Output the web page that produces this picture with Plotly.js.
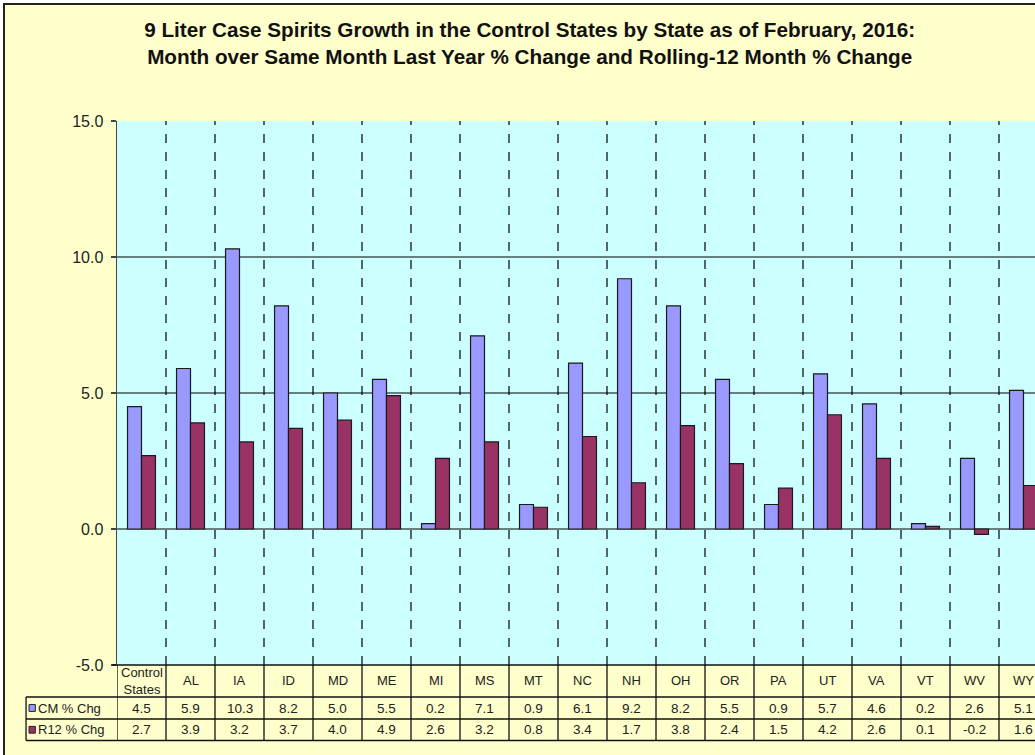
<!DOCTYPE html>
<html>
<head>
<meta charset="utf-8">
<script src="https://cdn.plot.ly/plotly-3.0.1.min.js"></script>
<style>
  html, body { margin:0; padding:0; background:#ffffff; overflow:hidden; width:1035px; height:755px; }
  #chart { position:absolute; left:3px; top:3px; width:1060px; height:752px;
           border-left:2px solid #222; border-top:2px solid #222; }
</style>
</head>
<body>
<div id="chart"></div>
<script>
// ---- data ----
const categories = ["Control States","AL","IA","ID","MD","ME","MI","MS","MT","NC","NH","OH","OR","PA","UT","VA","VT","WV","WY"];
const headerLabels = ["Control<br>States","AL","IA","ID","MD","ME","MI","MS","MT","NC","NH","OH","OR","PA","UT","VA","VT","WV","WY"];
const cmPctChg  = [4.5, 5.9, 10.3, 8.2, 5.0, 5.5, 0.2, 7.1, 0.9, 6.1, 9.2, 8.2, 5.5, 0.9, 5.7, 4.6, 0.2, 2.6, 5.1];
const r12PctChg = [2.7, 3.9, 3.2, 3.7, 4.0, 4.9, 2.6, 3.2, 0.8, 3.4, 1.7, 3.8, 2.4, 1.5, 4.2, 2.6, 0.1, -0.2, 1.6];
const seriesNames = ["CM % Chg", "R12 % Chg"];
const yTickVals = [-5, 0, 5, 10, 15];
const gridVals = [0, 5, 10];

// ---- styles ----
const blue = "#9999FF", maroon = "#993366";
const font = "Arial, 'Liberation Sans', sans-serif";
const idx = categories.map((_, i) => i);

const traces = [
  { type: "bar", x: idx, y: cmPctChg, name: seriesNames[0],
    marker: { color: blue, line: { color: "#1a1a1a", width: 1.2 } }, hoverinfo: "y" },
  { type: "bar", x: idx, y: r12PctChg, name: seriesNames[1],
    marker: { color: maroon, line: { color: "#1a1a1a", width: 1.2 } }, hoverinfo: "y" }
];

// table geometry (paper units relative to plot area)
const rowHdrBot = -0.0588, rowCmBot = -0.0993, rowR12Bot = -0.1388;
const legLeft = -0.0977;

const shapes = [];
const annotations = [];

// horizontal gridlines
gridVals.forEach(v => shapes.push({ type: "line", xref: "paper", yref: "y", x0: 0, x1: 1, y0: v, y1: v,
  line: { color: "#000", width: 1.2 }, layer: "below" }));
// dashed vertical category separators
for (let i = 0; i < categories.length - 1; i++) {
  shapes.push({ type: "line", xref: "x", yref: "paper", x0: i + 0.5, x1: i + 0.5, y0: 0, y1: 1,
    line: { color: "#000", width: 1.2, dash: "dash" }, layer: "below" });
}
// table vertical lines
for (let i = 0; i <= categories.length; i++) {
  shapes.push({ type: "line", xref: "x", yref: "paper", x0: i - 0.5, x1: i - 0.5, y0: 0, y1: rowR12Bot,
    line: { color: "#111", width: 1.3 } });
}
// table horizontal lines
[0, rowHdrBot, rowCmBot, rowR12Bot].forEach((yy, k) => shapes.push({
  type: "line", xref: "paper", yref: "paper", x0: k === 0 ? -0.005 : legLeft, x1: 1.2, y0: yy, y1: yy,
  line: { color: "#111", width: 1.3 } }));
// legend column left edge
shapes.push({ type: "line", xref: "paper", yref: "paper", x0: legLeft, x1: legLeft, y0: rowHdrBot, y1: rowR12Bot,
  line: { color: "#111", width: 1.3 } });

// legend keys
const keyW = 0.0068, keyH = 0.0125;
const rowCenters = [(rowHdrBot + rowCmBot) / 2, (rowCmBot + rowR12Bot) / 2];
[blue, maroon].forEach((c, k) => {
  shapes.push({ type: "rect", xref: "paper", yref: "paper",
    x0: -0.0945, x1: -0.0945 + keyW, y0: rowCenters[k] - keyH / 2, y1: rowCenters[k] + keyH / 2,
    fillcolor: c, line: { color: "#222", width: 1 } });
  annotations.push({ xref: "paper", yref: "paper", x: -0.0875, y: rowCenters[k], xanchor: "left", yanchor: "middle",
    text: seriesNames[k], showarrow: false, font: { family: font, size: 13, color: "#222" } });
});

// header and values
categories.forEach((c, i) => {
  annotations.push({ xref: "x", yref: "paper", x: i, y: rowHdrBot / 2, xanchor: "center", yanchor: "middle",
    text: headerLabels[i], showarrow: false, font: { family: font, size: 13, color: "#222" } });
  annotations.push({ xref: "x", yref: "paper", x: i, y: rowCenters[0], xanchor: "center", yanchor: "middle",
    text: cmPctChg[i].toFixed(1), showarrow: false, font: { family: font, size: 13.5, color: "#222" } });
  annotations.push({ xref: "x", yref: "paper", x: i, y: rowCenters[1], xanchor: "center", yanchor: "middle",
    text: r12PctChg[i].toFixed(1), showarrow: false, font: { family: font, size: 13.5, color: "#222" } });
});

const layout = {
  width: 1060, height: 752,
  margin: { l: 112, r: 17, t: 116, b: 92 },
  paper_bgcolor: "#FFFFCC", plot_bgcolor: "#CCFFFF",
  showlegend: false,
  barmode: "group", bargap: 0.43, bargroupgap: 0,
  title: {
    text: "<b>9 Liter Case Spirits Growth in the Control States by State as of February, 2016:<br>Month over Same Month Last Year % Change and Rolling-12 Month % Change</b>",
    x: 0.495, xref: "container", xanchor: "center", y: 0.9575, yref: "container", yanchor: "middle",
    font: { family: font, size: 20.7, color: "#111" }
  },
  xaxis: { range: [-0.5, categories.length - 0.5], showticklabels: false, ticks: "", showgrid: false,
    zeroline: false, showline: false, fixedrange: true },
  yaxis: { range: [-5, 15], tickvals: yTickVals, ticktext: yTickVals.map(v => v.toFixed(1)),
    showgrid: false, zeroline: false, showline: true, linecolor: "#444", linewidth: 1.5,
    ticks: "outside", ticklen: 5, tickcolor: "#444", tickwidth: 1.3, ticklabelstandoff: 4,
    tickfont: { family: font, size: 16, color: "#222" }, fixedrange: true },
  shapes: shapes,
  annotations: annotations
};

Plotly.newPlot("chart", traces, layout, { displayModeBar: false, staticPlot: true });
</script>
</body>
</html>
